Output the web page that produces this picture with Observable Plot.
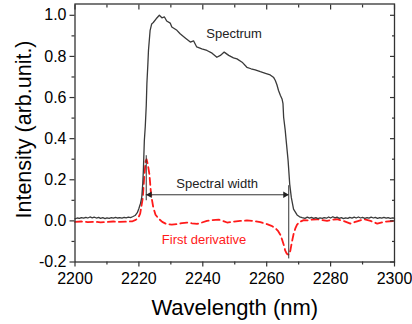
<!DOCTYPE html>
<html><head><meta charset="utf-8">
<script src="https://cdn.jsdelivr.net/npm/d3@7"></script>
<script src="https://cdn.jsdelivr.net/npm/@observablehq/plot@0.6"></script>
<style>body{margin:0;background:#fff}svg{display:block}</style>
</head><body><div id="chart"></div>
<script>
const specX = [2200,2200.7,2201.4,2202,2202.7,2203.4,2204,2204.7,2205.4,2206,2206.7,2207.4,2208,2208.7,2209.4,2210,2210.7,2211.4,2212,2212.7,2213.4,2214,2214.7,2215.4,2216,2216.7,2217.4,2218,2218.8,2219.5,2220,2220.5,2220.9,2221.2,2221.4,2221.7,2222,2222.3,2222.5,2222.8,2223,2223.5,2224,2224.5,2225.4,2226.4,2227.2,2228,2228.7,2229.8,2230.3,2231.9,2232.9,2234.5,2236.1,2237.1,2238.1,2239.7,2241.3,2242.9,2244.4,2245.5,2246.7,2248.1,2249.6,2250.7,2252.3,2253.8,2255.1,2256.4,2258,2259.6,2261.1,2262.2,2262.7,2263.2,2263.7,2264.3,2264.8,2265.1,2265.3,2265.8,2266,2266.7,2267.2,2267.7,2268.4,2269.5,2270.3,2271.1,2272,2272.7,2273.4,2274,2274.7,2275.4,2276,2276.7,2277.4,2278,2278.7,2279.4,2280,2280.7,2281.4,2282,2282.7,2283.4,2284,2284.7,2285.4,2286,2286.7,2287.4,2288,2288.7,2289.4,2290,2290.7,2291.4,2292,2292.7,2293.4,2294,2294.7,2295.4,2296,2296.7,2297.4,2298,2298.7,2299.4,2300];
const specY = [0.010,0.014,0.012,0.016,0.013,0.017,0.014,0.019,0.015,0.018,0.014,0.017,0.012,0.016,0.011,0.015,0.012,0.016,0.013,0.017,0.014,0.016,0.013,0.017,0.015,0.018,0.016,0.020,0.026,0.040,0.060,0.085,0.115,0.180,0.245,0.390,0.460,0.560,0.667,0.760,0.830,0.925,0.958,0.965,0.983,1.000,0.988,0.992,0.972,0.962,0.943,0.927,0.910,0.890,0.870,0.876,0.846,0.837,0.829,0.816,0.796,0.805,0.821,0.805,0.793,0.788,0.772,0.747,0.740,0.735,0.726,0.718,0.710,0.697,0.683,0.662,0.634,0.610,0.593,0.570,0.504,0.440,0.406,0.293,0.179,0.114,0.057,0.029,0.020,0.016,0.012,0.018,0.013,0.017,0.012,0.016,0.011,0.015,0.012,0.016,0.013,0.019,0.014,0.020,0.015,0.018,0.012,0.016,0.011,0.015,0.012,0.017,0.013,0.018,0.014,0.019,0.014,0.017,0.012,0.016,0.013,0.018,0.014,0.017,0.012,0.016,0.013,0.017,0.013,0.016,0.012,0.015,0.013];
const derivX = [2200,2202,2204,2206,2208,2210,2212,2214,2216,2218,2219,2219.8,2220.4,2221.2,2221.7,2222.1,2222.4,2222.8,2223.3,2223.8,2224.5,2225.2,2226.1,2227.3,2228.7,2230.3,2231.9,2233.5,2235,2236.6,2238.2,2239.7,2241.3,2243,2245,2246.3,2247.6,2249.6,2251.7,2253.8,2255.9,2258,2260.1,2261.5,2262.7,2263.6,2264.3,2264.9,2265.3,2265.8,2266.3,2266.9,2267.4,2267.8,2268.4,2269,2269.5,2270.3,2271.6,2272.6,2274.2,2275.8,2277.3,2278.9,2280.5,2282,2284,2286.2,2288.3,2290.4,2292.5,2294.6,2297,2300];
const derivY = [-0.005,-0.003,-0.006,-0.004,-0.007,-0.005,-0.003,-0.005,-0.004,-0.002,0.005,0.015,0.035,0.110,0.220,0.290,0.300,0.275,0.225,0.130,0.065,0.030,0.012,-0.005,-0.016,-0.018,-0.016,-0.011,-0.008,-0.012,-0.015,-0.008,0.000,0.004,0.006,0.000,-0.008,-0.004,0.000,0.002,0.000,-0.006,-0.016,-0.024,-0.035,-0.050,-0.068,-0.095,-0.115,-0.145,-0.160,-0.165,-0.145,-0.110,-0.065,-0.035,-0.018,-0.005,0.004,0.002,0.006,0.008,0.004,0.000,0.005,0.008,0.000,-0.013,-0.002,0.008,0.000,-0.013,-0.004,0.000];
const xTicks = [2200,2220,2240,2260,2280,2300];
const xMinor = [2210,2230,2250,2270,2290];
const yTicks = [-0.2,0.0,0.2,0.4,0.6,0.8,1.0];
const yMinor = [-0.1,0.1,0.3,0.5,0.7,0.9];
const xLabel = "Wavelength (nm)";
const yLabel = "Intensity (arb.unit.)";
const annoText = ["Spectrum","Spectral width","First derivative"];
const annoX = [2249.8,2244.5,2240.4];
const annoY = [0.912,0.18,-0.093];
const annoColor = ["#222","#222","#ff1a1a"];
const edgeX = [2222.3,2266.9];
const edgeY1 = [0.098,-0.185];
const edgeY2 = [0.317,0.171];
const widthY = [0.127];

const spec = specX.map((x,i)=>({x, y: specY[i]}));
const deriv = derivX.map((x,i)=>({x, y: derivY[i]}));
const anno = annoText.map((t,i)=>({t, x: annoX[i], y: annoY[i], c: annoColor[i]}));
const edges = edgeX.map((x,i)=>({x, y1: edgeY1[i], y2: edgeY2[i]}));
const blank = () => "";
const font = "'Liberation Sans', Arial, Helvetica, sans-serif";

const chart = Plot.plot({
  width: 412, height: 324,
  marginLeft: 74.5, marginRight: 18, marginTop: 3.5, marginBottom: 62.5,
  style: {fontFamily: font, fontSize: "16px", color: "#000", background: "#fff"},
  x: {domain: [2200, 2300]},
  y: {domain: [-0.2, 1.055]},
  marks: [
    Plot.line(deriv, {x: "x", y: "y", stroke: "#ff1a1a", strokeWidth: 1.8, strokeDasharray: "7,4"}),
    Plot.line(spec, {x: "x", y: "y", stroke: "#3a3a3a", strokeWidth: 1.3}),
    Plot.ruleX(edges, {x: "x", y1: "y1", y2: "y2", stroke: "#333", strokeWidth: 1}),
    Plot.ruleY(widthY, {y: d => d, x1: edgeX[0], x2: edgeX[1], stroke: "#333", strokeWidth: 1}),
    Plot.dot([edgeX[1]], {x: d => d, y: widthY[0], symbol: "triangle", rotate: 90, r: 2.4, fill: "#222", stroke: null, dx: -3.6}),
    Plot.dot([edgeX[0]], {x: d => d, y: widthY[0], symbol: "triangle", rotate: -90, r: 2.4, fill: "#222", stroke: null, dx: 3.6}),
    Plot.text(anno, {x: "x", y: "y", text: "t", fill: "c", fontSize: 13}),
    Plot.frame({stroke: "#333", strokeWidth: 1.3}),
    Plot.axisX(xTicks, {tickSize: 5, tickPadding: 5.5, tickFormat: d => String(d), fontSize: 16, label: null, stroke: "#333", strokeWidth: 1.2, fill: "#000"}),
    Plot.axisX(xMinor, {tickSize: 3, tickFormat: blank, label: null, stroke: "#333", strokeWidth: 1.2}),
    Plot.axisX(xTicks, {anchor: "top", tickSize: -5, tickFormat: blank, label: null, stroke: "#333", strokeWidth: 1.2}),
    Plot.axisX(xMinor, {anchor: "top", tickSize: -3, tickFormat: blank, label: null, stroke: "#333", strokeWidth: 1.2}),
    Plot.axisY(yTicks, {tickSize: 5, tickPadding: 3.5, tickFormat: d => d.toFixed(1), fontSize: 16, label: null, stroke: "#333", strokeWidth: 1.2, fill: "#000"}),
    Plot.axisY(yMinor, {tickSize: 3, tickFormat: blank, label: null, stroke: "#333", strokeWidth: 1.2}),
    Plot.axisY(yTicks, {anchor: "right", tickSize: -5, tickFormat: blank, label: null, stroke: "#333", strokeWidth: 1.2}),
    Plot.axisY(yMinor, {anchor: "right", tickSize: -3, tickFormat: blank, label: null, stroke: "#333", strokeWidth: 1.2}),
    Plot.text([xLabel], {text: d => d, frameAnchor: "bottom", textAnchor: "middle", lineAnchor: "middle", dy: 46, fontSize: 22, fill: "#000"}),
    Plot.text([yLabel], {text: d => d, frameAnchor: "left", textAnchor: "middle", lineAnchor: "middle", dx: -51, dy: -3.5, rotate: -90, fontSize: 21.5, fill: "#000"})
  ]
});
document.getElementById("chart").appendChild(chart);
</script>
</body></html>
